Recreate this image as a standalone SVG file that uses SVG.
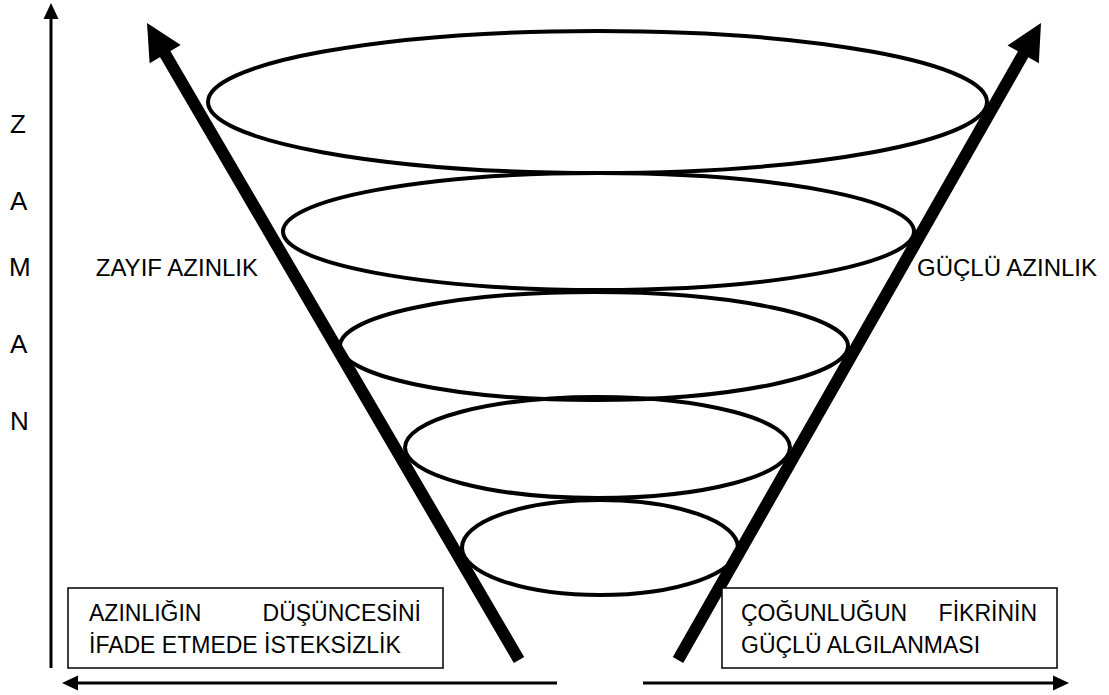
<svg xmlns="http://www.w3.org/2000/svg" width="1109" height="695" viewBox="0 0 1109 695">
<style>
.lbl{font-family:"Liberation Sans",Arial,sans-serif;font-size:23px;fill:#000}
.side{font-size:24px}
.axis{font-size:26px}
.ell{fill:none;stroke:#000;stroke-width:4}
.box{fill:#fff;stroke:#000;stroke-width:1.5}
.thin{stroke:#000;stroke-width:3;fill:none}
.thick{stroke:#000;stroke-width:12;fill:none}
</style>
<defs>
<marker id="ah" markerUnits="userSpaceOnUse" markerWidth="16" markerHeight="15" refX="6" refY="7.5" orient="auto" overflow="visible">
<path d="M0,0 L16,7.5 L0,15 Z" fill="#000"/>
</marker>
<marker id="bh" markerUnits="userSpaceOnUse" markerWidth="36" markerHeight="36" refX="16" refY="18" orient="auto" overflow="visible">
<path d="M0,0 L36,18 L0,36 Z" fill="#000"/>
</marker>
</defs>
<rect width="1109" height="695" fill="#fff"/>
<g id="funnel">
<ellipse id="e1" class="ell" cx="597.5" cy="102" rx="389.5" ry="71"/>
<ellipse id="e2" class="ell" cx="598.5" cy="231.5" rx="315.5" ry="58.5"/>
<ellipse id="e3" class="ell" cx="594" cy="346" rx="254" ry="54"/>
<ellipse id="e4" class="ell" cx="597.5" cy="447.5" rx="192.5" ry="50.5"/>
<ellipse id="e5" class="ell" cx="600" cy="547.5" rx="138" ry="47.5"/>
</g>
<g id="connectors">
<line class="thin" x1="51" y1="668" x2="51" y2="13" marker-end="url(#ah)"/>
<line class="thin" x1="557" y1="683" x2="72" y2="683" marker-end="url(#ah)"/>
<line class="thin" x1="643" y1="683" x2="1059" y2="683" marker-end="url(#ah)"/>
<line class="thick" x1="519" y1="660" x2="157.1" y2="40.3" marker-end="url(#bh)"/>
<line class="thick" x1="678" y1="660" x2="1031.1" y2="40.4" marker-end="url(#bh)"/>
</g>
<g id="zaman">
<text class="lbl axis" x="10" y="133">Z</text>
<text class="lbl axis" x="10" y="210">A</text>
<text class="lbl axis" x="9" y="276">M</text>
<text class="lbl axis" x="10" y="353">A</text>
<text class="lbl axis" x="10" y="430">N</text>
</g>
<g id="zayif">
<text class="lbl side" x="258" y="276" text-anchor="end">ZAYIF AZINLIK</text>
</g>
<g id="guclu">
<text class="lbl side" x="917" y="276">GÜÇLÜ AZINLIK</text>
</g>
<g id="box-left">
<rect class="box" x="68" y="588" width="375" height="80"/>
<text class="lbl"><tspan x="89" y="620.5">AZINLIĞIN</tspan><tspan x="421" y="620.5" text-anchor="end">DÜŞÜNCESİNİ</tspan><tspan x="89" y="653">İFADE ETMEDE İSTEKSİZLİK</tspan></text>
</g>
<g id="box-right">
<rect class="box" x="722" y="588" width="335" height="80"/>
<text class="lbl"><tspan x="741" y="620.5">ÇOĞUNLUĞUN</tspan><tspan x="1037" y="620.5" text-anchor="end">FİKRİNİN</tspan><tspan x="741" y="653">GÜÇLÜ ALGILANMASI</tspan></text>
</g>
</svg>
